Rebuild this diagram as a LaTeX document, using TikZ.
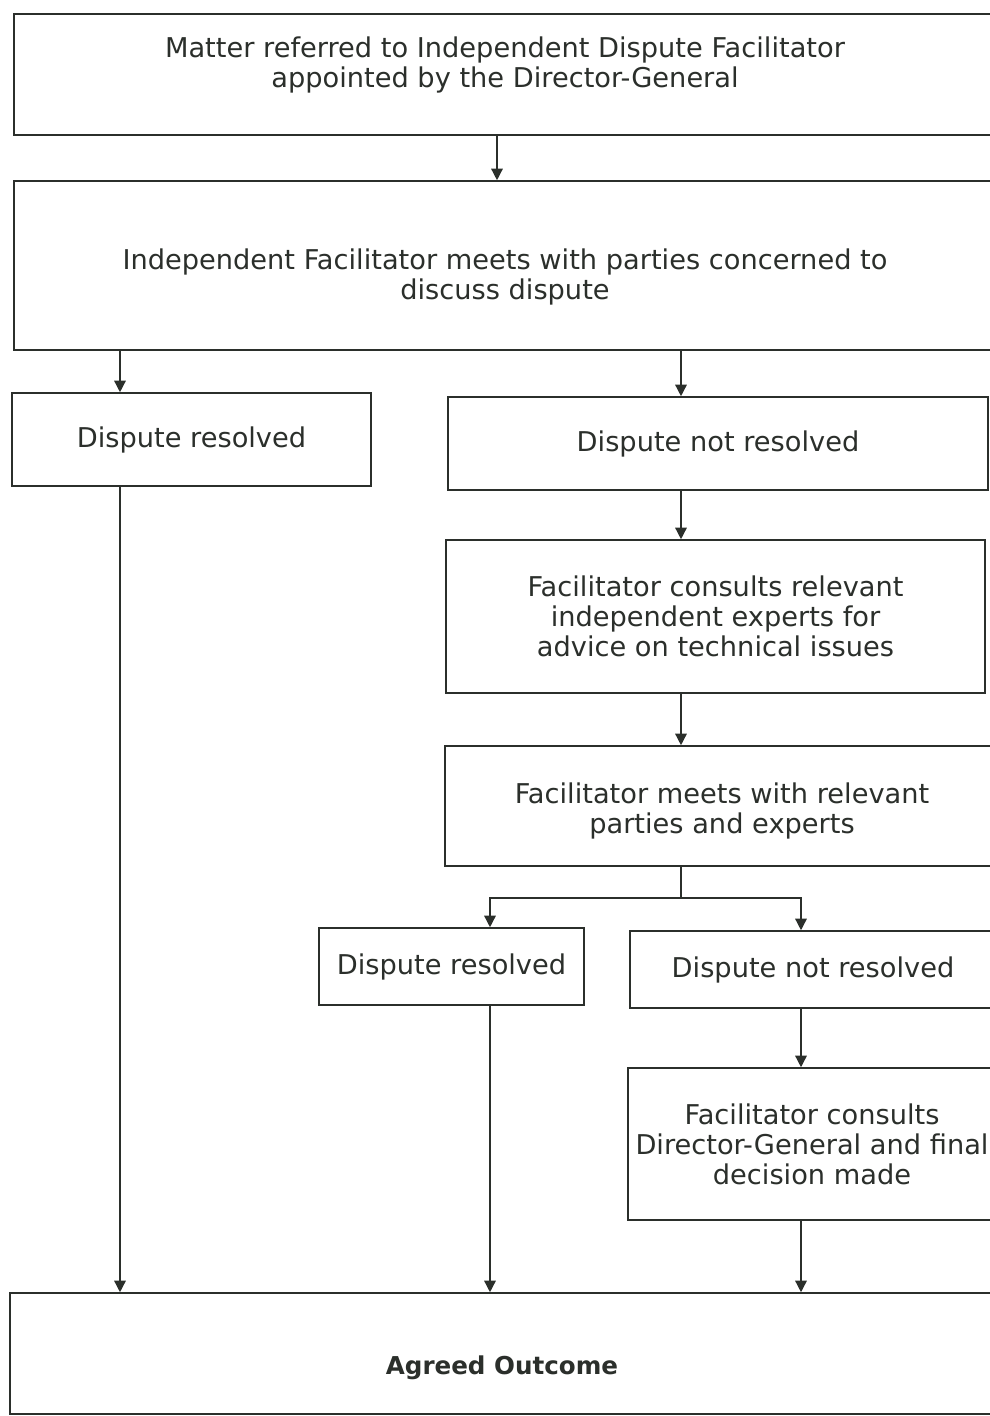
\documentclass[tikz,border=0pt]{standalone}
\usepackage{fontspec}
\setmainfont{DejaVu Sans}
\usepackage{tikz}
\usetikzlibrary{arrows.meta,positioning,calc}
\definecolor{ScanInk}{HTML}{2B2F2B}
\def\pxu{0.02cm}
\tikzset{
  flowbox/.style={draw=ScanInk,line width=0.9pt,align=center,inner sep=2pt,font=\fontsize{15.5}{17.1}\selectfont,text=ScanInk,fill=white},
  flowarrow/.style={-{Triangle[length=2.3mm,width=2.3mm]},line width=0.8pt,draw=ScanInk},
  flowline/.style={line width=0.8pt,draw=ScanInk}
}

\begin{document}
\begin{tikzpicture}[x=0.02cm,y=-0.02cm]
\useasboundingbox (0,0) rectangle (990,1416);
\clip (0,0) rectangle (990,1416);
% columns the connectors run down
\coordinate (colTop) at (497,0);
\coordinate (colLeft) at (120,0);
\coordinate (colMid) at (681,0);
\coordinate (colRes) at (490,0);
\coordinate (colNot) at (801,0);
% boxes
\node[flowbox,minimum width=982*\pxu,minimum height=121*\pxu] (refer) at (505,74.5) {Matter referred to Independent Dispute Facilitator\\appointed by the Director-General\\[-3.5pt]\mbox{}};
\node[flowbox,minimum width=982*\pxu,minimum height=169*\pxu] (meet) at (505,265.5) {\mbox{}\\[7.9pt]Independent Facilitator meets with parties concerned to\\discuss dispute};
\node[flowbox,minimum width=359*\pxu,minimum height=93*\pxu] (resA) at (191.5,439.5) {Dispute resolved};
\node[flowbox,minimum width=540*\pxu,minimum height=93*\pxu] (notA) at (718,443.5) {Dispute not resolved};
\node[flowbox,minimum width=539*\pxu,minimum height=153*\pxu] (experts) at (715.5,616.5) {Facilitator consults relevant\\independent experts for\\advice on technical issues};
\node[flowbox,minimum width=554*\pxu,minimum height=120*\pxu] (meetexp) at (722,806) {\mbox{}\\[0pt]Facilitator meets with relevant\\parties and experts};
\node[flowbox,minimum width=265*\pxu,minimum height=77*\pxu] (resB) at (451.5,966.5) {Dispute resolved};
\node[flowbox,minimum width=366*\pxu,minimum height=77*\pxu] (notB) at (813,969.5) {Dispute not resolved};
\node[flowbox,minimum width=368*\pxu,minimum height=152*\pxu] (final) at (812,1144) {Facilitator consults\\Director-General and final\\decision made};
\node[flowbox,minimum width=984*\pxu,minimum height=121*\pxu,font=\fontsize{14}{17.1}\selectfont\bfseries] (outcome) at (502,1353.5) {\mbox{}\\[10.2pt]Agreed Outcome};
% connectors
\draw[flowarrow] (refer.south -| colTop) -- (meet.north -| colTop);
\draw[flowarrow] (meet.south -| colLeft) -- (resA.north -| colLeft);
\draw[flowarrow] (meet.south -| colMid) -- (notA.north -| colMid);
\draw[flowarrow] (notA.south -| colMid) -- (experts.north -| colMid);
\draw[flowarrow] (experts.south -| colMid) -- (meetexp.north -| colMid);
\draw[flowline] (meetexp.south -| colMid) -- ++(0,31) coordinate (split);
\draw[flowarrow] (split) -| (resB.north -| colRes);
\draw[flowarrow] (split) -| (notB.north -| colNot);
\draw[flowarrow] (notB.south -| colNot) -- (final.north -| colNot);
\draw[flowarrow] (resA.south -| colLeft) -- (outcome.north -| colLeft);
\draw[flowarrow] (resB.south -| colRes) -- (outcome.north -| colRes);
\draw[flowarrow] (final.south -| colNot) -- (outcome.north -| colNot);
\end{tikzpicture}
\end{document}
